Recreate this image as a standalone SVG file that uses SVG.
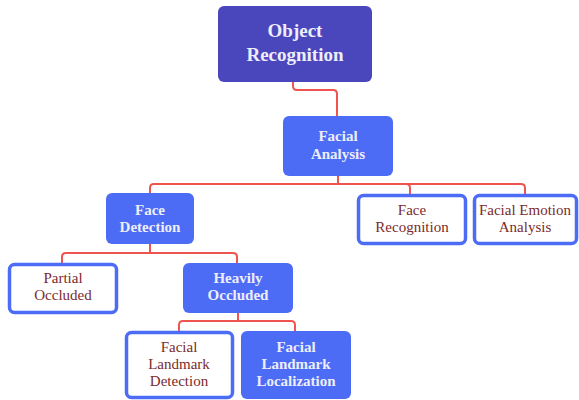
<svg xmlns="http://www.w3.org/2000/svg" width="579" height="400" viewBox="0 0 579 400">
<style>
.conn{fill:none;stroke:#f0544f;stroke-width:2}
.top{fill:#4a47bd}
.fill{fill:#4d6cf6}
.out{fill:#ffffff;stroke:#4d6cf6;stroke-width:3.5}
.wt{font-family:"Liberation Serif","DejaVu Serif",serif;font-weight:bold;fill:#eeeefa;text-anchor:middle;font-size:15px}
.big{font-size:19px}
.rt{font-family:"Liberation Serif","DejaVu Serif",serif;fill:#7a2b2b;text-anchor:middle;font-size:15px}
</style>
<rect width="579" height="400" fill="#ffffff"/>
<g id="connectors">
<path class="conn" d="M293 82 V86 Q293 90 297 90 H333 Q337 90 337 94 V116"/>
<path class="conn" d="M338 176 V184"/>
<path class="conn" d="M150 193 V188 Q150 184 154 184 H521 Q525 184 525 188 V194"/>
<path class="conn" d="M406 184 Q410 184 410 188 V194"/>
<path class="conn" d="M150 244 V253"/>
<path class="conn" d="M62 263 V257 Q62 253 66 253 H233 Q237 253 237 257 V263"/>
<path class="conn" d="M238 313 V321"/>
<path class="conn" d="M179 331 V325 Q179 321 183 321 H291 Q295 321 295 325 V331"/>
</g>
<g id="object-recognition">
<rect class="top" x="218" y="6" width="154" height="76" rx="6"/>
<text class="wt big" x="295" y="37">Object</text>
<text class="wt big" x="295" y="61">Recognition</text>
</g>
<g id="facial-analysis">
<rect class="fill" x="283" y="116" width="110" height="60" rx="6"/>
<text class="wt" x="338" y="141">Facial</text>
<text class="wt" x="338" y="159">Analysis</text>
</g>
<g id="face-detection">
<rect class="fill" x="106" y="193" width="88" height="51" rx="6"/>
<text class="wt" x="150" y="215">Face</text>
<text class="wt" x="150" y="232">Detection</text>
</g>
<g id="face-recognition">
<rect class="out" x="358.5" y="195.5" width="107" height="48" rx="5"/>
<text class="rt" x="412" y="215">Face</text>
<text class="rt" x="412" y="232">Recognition</text>
</g>
<g id="facial-emotion-analysis">
<rect class="out" x="474.5" y="195.5" width="102" height="48" rx="5"/>
<text class="rt" x="525" y="215">Facial Emotion</text>
<text class="rt" x="525" y="232">Analysis</text>
</g>
<g id="partial-occluded">
<rect class="out" x="9.5" y="264.5" width="107" height="48" rx="5"/>
<text class="rt" x="63" y="283">Partial</text>
<text class="rt" x="63" y="300">Occluded</text>
</g>
<g id="heavily-occluded">
<rect class="fill" x="183" y="263" width="110" height="50" rx="6"/>
<text class="wt" x="238" y="283">Heavily</text>
<text class="wt" x="238" y="300">Occluded</text>
</g>
<g id="facial-landmark-detection">
<rect class="out" x="126.5" y="332.5" width="106" height="65" rx="5"/>
<text class="rt" x="179" y="352">Facial</text>
<text class="rt" x="179" y="369">Landmark</text>
<text class="rt" x="179" y="386">Detection</text>
</g>
<g id="facial-landmark-localization">
<rect class="fill" x="241" y="331" width="110" height="68" rx="6"/>
<text class="wt" x="296" y="352">Facial</text>
<text class="wt" x="296" y="369">Landmark</text>
<text class="wt" x="296" y="386">Localization</text>
</g>
</svg>
